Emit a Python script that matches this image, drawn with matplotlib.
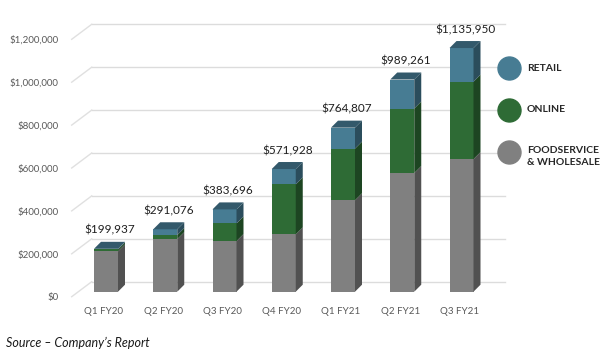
import numpy as np
import matplotlib.pyplot as plt
from matplotlib.patches import Polygon

plt.rcParams['font.family'] = ['Lato', 'DejaVu Sans']

quarters = ["Q1 FY20", "Q2 FY20", "Q3 FY20", "Q4 FY20", "Q1 FY21", "Q2 FY21", "Q3 FY21"]
foodservice = [188000, 245000, 236000, 267000, 426000, 553000, 618000]
online = [9000, 19000, 82000, 233000, 241000, 301000, 361000]
retail = [2937, 27076, 65696, 71928, 97807, 135261, 156950]
totals = [199937, 291076, 383696, 571928, 764807, 989261, 1135950]
yticks = [0, 200000, 400000, 600000, 800000, 1000000, 1200000]
series_names = ["FOODSERVICE\n& WHOLESALE", "ONLINE", "RETAIL"]

# front / side / top colours per series
front_cols = ["#808080", "#2e6b35", "#477c93"]
side_cols = ["#515151", "#1d4522", "#2b4d5c"]
top_cols = ["#5e5e5e", "#24532a", "#33596b"]

W, H = 616, 354
fig = plt.figure(figsize=(W / 100, H / 100), dpi=100)

# axes placed in pixels so 3D offsets can be given in pixels
ax_l, ax_r, ax_t, ax_b = 60, 520, 10, 300
ax = fig.add_axes([ax_l / W, 1 - ax_b / H, (ax_r - ax_l) / W, (ax_b - ax_t) / H])

x0_px, step_px = 106, 59.25       # centre of first bar, spacing
base_px, px_per_m = 291.7, 214.5   # baseline, pixels per million
ux = 1 / step_px
uy = 1e6 / px_per_m

ax.set_xlim((ax_l - x0_px) * ux, (ax_r - x0_px) * ux)
ax.set_ylim(-(ax_b - base_px) * uy, (base_px - ax_t) * uy)

# back wall gridlines with perspective stub on the left
gx0, gx1, gx2 = (71.7 - x0_px) * ux, (91.7 - x0_px) * ux, (505 - x0_px) * ux
for v in yticks:
    ax.plot([gx0, gx1], [v - 5 * uy, v + 10 * uy], color="#e0e0e0", lw=1, zorder=0)
    ax.plot([gx1, gx2], [v + 10 * uy, v + 10 * uy], color="#dcdcdc", lw=1, zorder=0)

x = np.arange(len(quarters))
w = 24 * ux
dx, dy = 7 * ux, 7 * uy

stack = [np.array(foodservice), np.array(online), np.array(retail)]
bottom = np.zeros(len(quarters))
for k, vals in enumerate(stack):
    ax.bar(x, vals, width=w, bottom=bottom, color=front_cols[k], linewidth=0, zorder=2)
    for i in range(len(x)):
        b, t = bottom[i], bottom[i] + vals[i]
        xr = x[i] + w / 2
        side = Polygon([(xr, b), (xr + dx, b + dy), (xr + dx, t + dy), (xr, t)],
                       closed=True, facecolor=side_cols[k], edgecolor="none", zorder=2)
        ax.add_patch(side)
    bottom = bottom + vals

for i in range(len(x)):
    T = bottom[i]
    xl, xr = x[i] - w / 2, x[i] + w / 2
    top = Polygon([(xl, T), (xl + dx, T + dy), (xr + dx, T + dy), (xr, T)],
                  closed=True, facecolor=top_cols[2], edgecolor="none", zorder=3)
    ax.add_patch(top)
    ax.text(x[i] + dx / 2, T + dy + 6 * uy, "${:,}".format(totals[i]),
            ha="center", va="bottom", fontsize=8.5, color="#1f1f1f")

ax.set_yticks([v - 5 * uy for v in yticks], ["${:,}".format(v) for v in yticks])
ax.set_xticks(x - 2 * ux, quarters)
ax.tick_params(axis="y", length=0, pad=1, labelsize=7, labelcolor="#595959")
ax.tick_params(axis="x", length=0, pad=5, labelsize=7, labelcolor="#595959")
for s in ax.spines.values():
    s.set_visible(False)

# legend drawn by hand to match the layout
leg_y = [68.3, 110, 152]
for k, yy in zip([2, 1, 0], leg_y):
    ax.scatter([509.3 / W], [1 - yy / H], s=274, color=front_cols[k],
               transform=fig.transFigure, clip_on=False, zorder=5)
    lab = series_names[k]
    if "\n" in lab:
        fig.text(527 / W, 1 - (yy - 6) / H, lab, ha="left", va="top", fontsize=7.5,
                 color="#262626", fontweight="bold", linespacing=1.45)
    else:
        fig.text(527 / W, 1 - yy / H, lab, ha="left", va="center", fontsize=7.5,
                 color="#262626", fontweight="bold")

fig.text(6 / W, 1 - 343 / H, "Source \u2013 Company\u2019s Report", style="italic",
         fontsize=9, color="#1a1a1a", va="center")

fig.savefig("out.png", dpi=100)
